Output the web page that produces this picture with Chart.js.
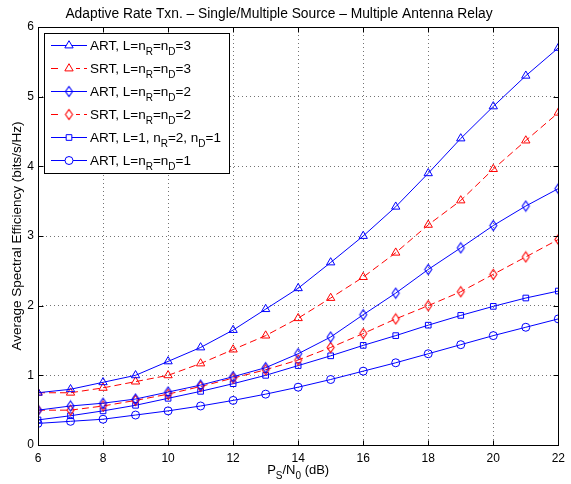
<!DOCTYPE html>
<html>
<head>
<meta charset="utf-8">
<script src="https://cdn.jsdelivr.net/npm/chart.js@4.4.0/dist/chart.umd.min.js"></script>
<style>
  html, body { margin: 0; padding: 0; background: #fff; }
</style>
</head>
<body>
<canvas id="chart" width="571" height="484"></canvas>
<script>
const snr = [6, 7, 8, 9, 10, 11, 12, 13, 14, 15, 16, 17, 18, 19, 20, 21, 22];

const art3 = [0.75, 0.8, 0.9, 1.0, 1.2, 1.4, 1.65, 1.95, 2.25, 2.62, 3.0, 3.42, 3.9, 4.4, 4.86, 5.3, 5.7];
const srt3 = [0.75, 0.75, 0.82, 0.91, 1.0, 1.17, 1.37, 1.57, 1.82, 2.11, 2.41, 2.76, 3.16, 3.51, 3.96, 4.37, 4.77];
const art2 = [0.5, 0.56, 0.6, 0.66, 0.76, 0.86, 0.98, 1.11, 1.31, 1.55, 1.87, 2.18, 2.52, 2.83, 3.15, 3.43, 3.68];
const srt2 = [0.5, 0.5, 0.56, 0.64, 0.73, 0.84, 0.96, 1.08, 1.22, 1.4, 1.6, 1.81, 2.0, 2.2, 2.45, 2.7, 2.95];
const artL1 = [0.36, 0.42, 0.49, 0.57, 0.67, 0.77, 0.88, 1.0, 1.14, 1.28, 1.43, 1.57, 1.72, 1.86, 1.99, 2.11, 2.21];
const art1 = [0.31, 0.34, 0.37, 0.43, 0.49, 0.56, 0.64, 0.73, 0.83, 0.94, 1.06, 1.18, 1.31, 1.44, 1.57, 1.69, 1.81];

const seriesLabels = [
  'ART, L=n_R=n_D=3',
  'SRT, L=n_R=n_D=3',
  'ART, L=n_R=n_D=2',
  'SRT, L=n_R=n_D=2',
  'ART, L=1, n_R=2, n_D=1',
  'ART, L=n_R=n_D=1'
];

const titleText = 'Adaptive Rate Txn. \u2013 Single/Multiple Source \u2013 Multiple Antenna Relay';
const xTitle = 'P_S/N_0 (dB)';
const yTitle = 'Average Spectral Efficiency (bits/s/Hz)';

const FONT = '"Liberation Sans", Arial, sans-serif';
const BLUE = '#0000ff';
const RED = '#ff0000';

// matlab style diamond: taller than wide
function diamond(color) {
  const c = document.createElement('canvas');
  c.width = 11;
  c.height = 13;
  const g = c.getContext('2d');
  g.strokeStyle = color;
  g.lineWidth = 1.1;
  g.beginPath();
  g.moveTo(5.5, 1.5);
  g.lineTo(9, 6.5);
  g.lineTo(5.5, 11.5);
  g.lineTo(2, 6.5);
  g.closePath();
  g.stroke();
  return c;
}

function toPoints(values) {
  return snr.map((x, i) => ({ x: x, y: values[i] }));
}

function makeSet(label, values, color, style, radius, dashed) {
  return {
    label: label,
    data: toPoints(values),
    borderColor: color,
    backgroundColor: 'rgba(0,0,0,0)',
    borderWidth: 1,
    borderDash: dashed ? [7, 4] : [],
    pointStyle: style,
    pointRadius: radius,
    pointBorderWidth: 1,
    pointBorderColor: color,
    pointBackgroundColor: 'rgba(0,0,0,0)',
    tension: 0,
    fill: false
  };
}

// text with "_X" meaning a subscript X
function drawSubText(ctx, text, x, y, size, align) {
  const parts = text.split(/_(.)/);
  const subSize = Math.round(size * 0.75);
  let total = 0;
  parts.forEach((p, i) => {
    ctx.font = (i % 2 ? subSize : size) + 'px ' + FONT;
    total += ctx.measureText(p).width;
  });
  let cx = x;
  if (align === 'center') cx = x - total / 2;
  ctx.textAlign = 'left';
  ctx.textBaseline = 'alphabetic';
  parts.forEach((p, i) => {
    const sub = i % 2 === 1;
    ctx.font = (sub ? subSize : size) + 'px ' + FONT;
    ctx.fillText(p, cx, sub ? y + size * 0.35 : y);
    cx += ctx.measureText(p).width;
  });
}

const decorPlugin = {
  id: 'decor',
  afterDraw(chart) {
    const ctx = chart.ctx;
    const area = chart.chartArea;
    const xs = chart.scales.x;
    const ys = chart.scales.y;
    const L = Math.round(area.left) + 0.5;
    const R = Math.round(area.right) + 0.5;
    const T = Math.round(area.top) + 0.5;
    const B = Math.round(area.bottom) + 0.5;

    ctx.save();
    ctx.strokeStyle = '#000';
    ctx.lineWidth = 1;
    ctx.setLineDash([]);
    ctx.strokeRect(L, T, R - L, B - T);

    // inner tick marks
    ctx.beginPath();
    xs.ticks.forEach(t => {
      const px = Math.round(xs.getPixelForValue(t.value)) + 0.5;
      ctx.moveTo(px, B); ctx.lineTo(px, B - 5);
      ctx.moveTo(px, T); ctx.lineTo(px, T + 5);
    });
    ys.ticks.forEach(t => {
      const py = Math.round(ys.getPixelForValue(t.value)) + 0.5;
      ctx.moveTo(L, py); ctx.lineTo(L + 5, py);
      ctx.moveTo(R, py); ctx.lineTo(R - 5, py);
    });
    ctx.stroke();

    // legend box
    const bx = 44.5, by = 33.5, bw = 185, bh = 140;
    ctx.fillStyle = '#fff';
    ctx.fillRect(bx, by, bw, bh);
    ctx.strokeRect(bx, by, bw, bh);
    chart.data.datasets.forEach((ds, i) => {
      const cy = 45 + i * 23;
      ctx.strokeStyle = ds.borderColor;
      ctx.lineWidth = 1;
      ctx.setLineDash(ds.borderDash);
      ctx.beginPath();
      ctx.moveTo(51, cy + 0.5);
      ctx.lineTo(87, cy + 0.5);
      ctx.stroke();
      ctx.setLineDash([]);
      ctx.fillStyle = '#fff';
      if (ds.borderDash.length) {
        ctx.fillRect(62, cy - 6, 14, 12);
      }
      Chart.helpers.drawPoint(ctx, {
        pointStyle: ds.pointStyle,
        radius: ds.pointRadius,
        rotation: 0,
        borderWidth: 1
      }, 69, cy + 0.5);
      ctx.fillStyle = '#000';
      drawSubText(ctx, ds.label, 90, cy + 5, 13.5, 'left');
    });

    // title
    ctx.fillStyle = '#000';
    ctx.font = '13.8px ' + FONT;
    ctx.textAlign = 'center';
    ctx.textBaseline = 'alphabetic';
    ctx.fillText(titleText, 279, 18);

    // x axis title
    drawSubText(ctx, xTitle, (area.left + area.right) / 2, 474, 13, 'center');

    // y axis title
    ctx.save();
    ctx.translate(21, (area.top + area.bottom) / 2);
    ctx.rotate(-Math.PI / 2);
    ctx.font = '13.5px ' + FONT;
    ctx.textAlign = 'center';
    ctx.fillText(yTitle, 0, 0);
    ctx.restore();

    ctx.restore();
  }
};

const ctxEl = document.getElementById('chart');

new Chart(ctxEl, {
  type: 'line',
  data: {
    datasets: [
      makeSet(seriesLabels[0], art3, BLUE, 'triangle', 4.8, false),
      makeSet(seriesLabels[1], srt3, RED, 'triangle', 4.8, true),
      makeSet(seriesLabels[2], art2, BLUE, diamond(BLUE), 4.8, false),
      makeSet(seriesLabels[3], srt2, RED, diamond(RED), 4.8, true),
      makeSet(seriesLabels[4], artL1, BLUE, 'rect', 4, false),
      makeSet(seriesLabels[5], art1, BLUE, 'circle', 4, false)
    ]
  },
  options: {
    responsive: false,
    animation: false,
    layout: { padding: { top: 27, right: 5, left: 0, bottom: 0 } },
    plugins: {
      legend: { display: false },
      title: { display: false },
      tooltip: { enabled: false }
    },
    scales: {
      x: {
        type: 'linear',
        min: 6,
        max: 22,
        afterFit(scale) { scale.height = 39; },
        ticks: {
          stepSize: 2,
          color: '#000',
          padding: 6,
          maxRotation: 0,
          font: { family: FONT, size: 12 }
        },
        grid: { color: 'rgba(0,0,0,0.55)', lineWidth: 1, drawTicks: false },
        border: { display: false, dash: [1, 3] }
      },
      y: {
        min: 0,
        max: 6,
        afterFit(scale) { scale.width = 38; },
        ticks: {
          stepSize: 1,
          color: '#000',
          padding: 4,
          font: { family: FONT, size: 12 }
        },
        grid: { color: 'rgba(0,0,0,0.55)', lineWidth: 1, drawTicks: false },
        border: { display: false, dash: [1, 3] }
      }
    }
  },
  plugins: [decorPlugin]
});
</script>
</body>
</html>
